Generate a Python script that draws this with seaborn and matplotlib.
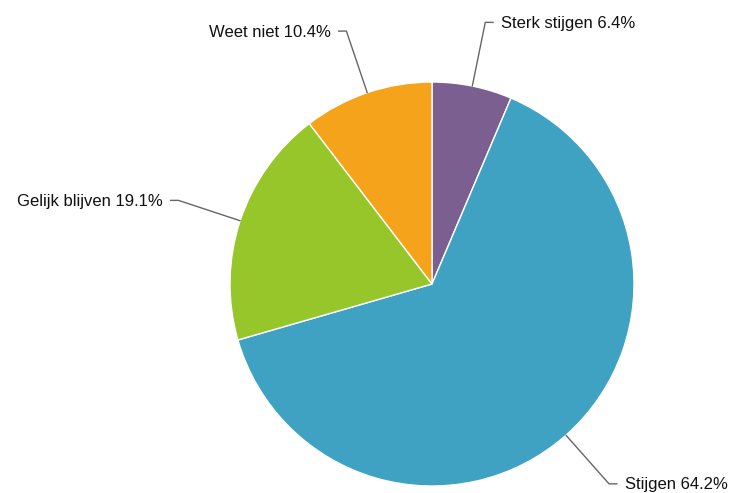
import numpy as np
import matplotlib.pyplot as plt
import seaborn as sns

labels = ["Sterk stijgen", "Stijgen", "Gelijk blijven", "Weet niet"]
values = [6.4, 64.2, 19.1, 10.4]
colors = ["#7b5f91", "#3fa2c3", "#96c62a", "#f5a31a"]

sns.set_theme(style="white")
plt.rcParams["font.family"] = ["Liberation Sans", "DejaVu Sans"]

fig = plt.figure(figsize=(7.31, 4.93), dpi=100)
ax = fig.add_axes([0, 0, 1, 1])
ax.set_aspect("equal")
ax.axis("off")

cx, cy, r = 432, 493 - 284, 202
wedges, _ = ax.pie(values, colors=sns.color_palette(colors), startangle=90,
                   counterclock=False, center=(cx, cy), radius=r,
                   wedgeprops=dict(edgecolor="white", linewidth=1))
ax.set_xlim(0, 731)
ax.set_ylim(0, 493)

# leader lines out to r=267, short horizontal tick, then label
for w, lab, v in zip(wedges, labels, values):
    ang = np.deg2rad((w.theta1 + w.theta2) / 2)
    x0, y0 = cx + r * np.cos(ang), cy + r * np.sin(ang)
    x1, y1 = cx + 267 * np.cos(ang), cy + 267 * np.sin(ang)
    side = 1 if np.cos(ang) >= 0 else -1
    x2 = x1 + side * 8
    ax.plot([x0, x1, x2], [y0, y1, y1], color="#666666", lw=1)
    ax.text(x2 + side * 8, y1 - 1, f"{lab} {v}%", ha="left" if side > 0 else "right",
            va="center", fontsize=12, color="#111111")

fig.savefig("out.png", dpi=100)
